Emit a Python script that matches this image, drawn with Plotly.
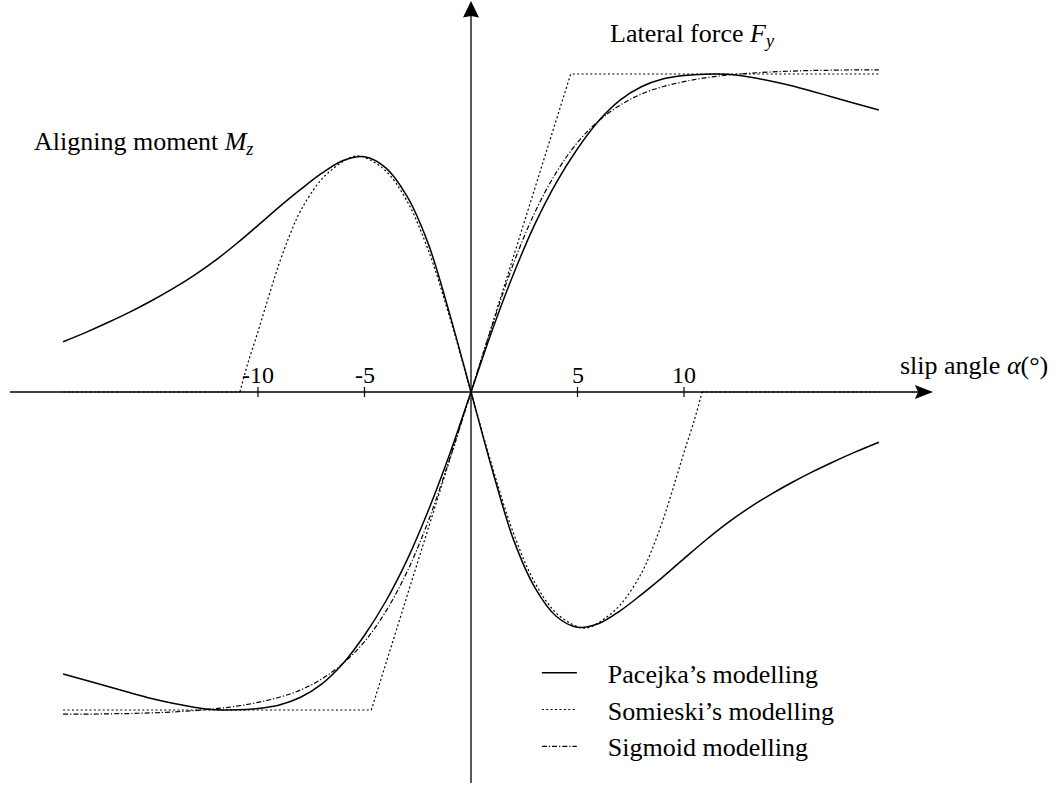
import plotly.graph_objects as go

# ---- Lateral force F_y (normalised so that the peak is about 1) ----
fy_alpha = [-19.15, -18, -17, -16, -15, -14, -13, -12, -11, -10, -9, -8, -7, -6, -5,
            -4, -3, -2, -1, 0, 1, 2, 3, 4, 5, 6, 7, 8, 9, 10, 11, 12, 13, 14, 15, 16,
            17, 18, 19.15]
fy_pacejka = [-0.887, -0.908, -0.927, -0.946, -0.964, -0.979, -0.991, -0.999, -0.9995, -0.995,
              -0.984, -0.96, -0.918, -0.853, -0.765, -0.658, -0.528, -0.372, -0.195, 0.0,
              0.195, 0.372, 0.528, 0.658, 0.765, 0.853, 0.918, 0.96, 0.984, 0.995, 0.9995,
              0.999, 0.991, 0.979, 0.964, 0.946, 0.927, 0.908, 0.887]
fy_sigmoid = [-1.013, -1.013, -1.012, -1.011, -1.009, -1.006, -1.002, -0.996, -0.988,
              -0.976, -0.96, -0.937, -0.902, -0.853, -0.785, -0.69, -0.565, -0.405, -0.21, 0.0,
              0.21, 0.405, 0.565, 0.69, 0.785, 0.853, 0.902, 0.937, 0.96, 0.976, 0.988,
              0.996, 1.002, 1.006, 1.009, 1.011, 1.012, 1.013, 1.013]
fy_somieski_alpha = [-19.15, -4.68, 4.68, 19.15]
fy_somieski = [-1.0, -1.0, 1.0, 1.0]

# ---- Aligning moment M_z ----
mz_alpha = [-19.15, -18, -17, -16, -15, -14, -13, -12, -11, -10, -9, -8, -7, -6, -5,
            -4, -3, -2, -1, 0, 1, 2, 3, 4, 5, 6, 7, 8, 9, 10, 11, 12, 13, 14, 15, 16,
            17, 18, 19.15]
mz_pacejka = [0.158, 0.19, 0.22, 0.252, 0.287, 0.325, 0.367, 0.414, 0.467, 0.524, 0.582, 0.637,
              0.688, 0.728, 0.74, 0.705, 0.615, 0.465, 0.245, 0.0,
              -0.245, -0.465, -0.615, -0.705, -0.74, -0.728, -0.688, -0.637, -0.582, -0.524,
              -0.467, -0.414, -0.367, -0.325, -0.287, -0.252, -0.22, -0.19, -0.158]
# Somieski's moment: a hump between the zero crossings, flat zero outside
mz_somieski_alpha = [-10.85, -10.5, -10, -9.5, -9, -8.5, -8, -7, -6, -5.43, -5, -4, -3,
                     -2, -1, 0, 1, 2, 3, 4, 5, 5.43, 6, 7, 8, 8.5, 9, 9.5, 10, 10.5, 10.85]
mz_somieski = [0.0, 0.085, 0.19, 0.30, 0.405, 0.495, 0.57, 0.67, 0.725, 0.742, 0.738, 0.695,
               0.60, 0.445, 0.235, 0.0, -0.235, -0.445, -0.60, -0.695, -0.738, -0.742, -0.725,
               -0.67, -0.57, -0.495, -0.405, -0.30, -0.19, -0.085, 0.0]
mz_somieski_flat_left = ([-19.15, -10.85], [0.0, 0.0])
mz_somieski_flat_right = ([10.85, 19.15], [0.0, 0.0])

# ---- axis ticks and texts ----
tick_values = [-10, -5, 5, 10]
tick_labels = ["-10", "-5", "5", "10"]
legend_names = ["Pacejka\u2019s modelling", "Somieski\u2019s modelling", "Sigmoid modelling"]
LEGEND_PAD = "\u00a0" * 4

# ---- drawing geometry (data units) ----
X_RANGE = [-22.113, 27.70]
Y_RANGE = [-1.2421, 1.2327]
X_AXIS_START, X_AXIS_END = -21.65, 21.69
Y_AXIS_BOTTOM, Y_AXIS_TOP = -1.2296, 1.2296
X_HEAD_LEN, X_HEAD_HALF, X_HEAD_NOTCH = 0.85, 0.022, 0.7
Y_HEAD_LEN, Y_HEAD_HALF, Y_HEAD_NOTCH = 0.052, 0.375, 0.047
TICK_HALF = 0.016

FONT = "Liberation Serif"
SOLID = dict(color="black", width=1.5)
DOTTED = dict(color="black", width=1.2, dash="2px,2.4px")
DASHDOT = dict(color="black", width=1.2, dash="5px,2px,1.2px,2px")

fig = go.Figure()

fig.add_trace(go.Scatter(x=fy_alpha, y=fy_pacejka, mode="lines", line=dict(SOLID, shape="spline"),
                         name=LEGEND_PAD + legend_names[0], legendgroup="a"))
fig.add_trace(go.Scatter(x=fy_somieski_alpha, y=fy_somieski, mode="lines", line=DOTTED,
                         name=LEGEND_PAD + legend_names[1], legendgroup="b"))
fig.add_trace(go.Scatter(x=fy_alpha, y=fy_sigmoid, mode="lines", line=dict(DASHDOT, shape="spline"),
                         name=LEGEND_PAD + legend_names[2], legendgroup="c"))
fig.add_trace(go.Scatter(x=mz_alpha, y=mz_pacejka, mode="lines", line=dict(SOLID, shape="spline"),
                         legendgroup="a", showlegend=False))
fig.add_trace(go.Scatter(x=mz_somieski_alpha, y=mz_somieski, mode="lines",
                         line=dict(DOTTED, shape="spline"), legendgroup="b", showlegend=False))
for fx, fy in (mz_somieski_flat_left, mz_somieski_flat_right):
    fig.add_trace(go.Scatter(x=fx, y=fy, mode="lines", line=DOTTED, legendgroup="b",
                             showlegend=False))

shapes = []
# horizontal axis with arrow head
shapes.append(dict(type="line", xref="x", yref="y", x0=X_AXIS_START, y0=0,
                   x1=X_AXIS_END - X_HEAD_NOTCH, y1=0, line=dict(color="black", width=1.3)))
shapes.append(dict(type="path", xref="x", yref="y", fillcolor="black", line=dict(width=0),
                   path=(f"M{X_AXIS_END},0 L{X_AXIS_END - X_HEAD_LEN},{X_HEAD_HALF} "
                         f"L{X_AXIS_END - X_HEAD_NOTCH},0 L{X_AXIS_END - X_HEAD_LEN},{-X_HEAD_HALF} Z")))
# vertical axis with arrow head
shapes.append(dict(type="line", xref="x", yref="y", x0=0, y0=Y_AXIS_BOTTOM, x1=0,
                   y1=Y_AXIS_TOP - Y_HEAD_NOTCH, line=dict(color="black", width=1.3)))
shapes.append(dict(type="path", xref="x", yref="y", fillcolor="black", line=dict(width=0),
                   path=(f"M0,{Y_AXIS_TOP} L{-Y_HEAD_HALF},{Y_AXIS_TOP - Y_HEAD_LEN} "
                         f"L0,{Y_AXIS_TOP - Y_HEAD_NOTCH} L{Y_HEAD_HALF},{Y_AXIS_TOP - Y_HEAD_LEN} Z")))
# ticks crossing the horizontal axis
for t in tick_values:
    shapes.append(dict(type="line", xref="x", yref="y", x0=t, x1=t, y0=-TICK_HALF, y1=TICK_HALF,
                       line=dict(color="black", width=1.2)))

annotations = []
for t, lab in zip(tick_values, tick_labels):
    annotations.append(dict(x=t, y=0.0535, xref="x", yref="y", text=lab, showarrow=False,
                            xanchor="center", yanchor="middle",
                            font=dict(size=24, family=FONT, color="black")))
annotations.append(dict(x=20.05, y=0.082, xref="x", yref="y", showarrow=False,
                        text="slip angle <i>\u03b1</i>(\u00b0)", xanchor="left", yanchor="middle",
                        font=dict(size=26, family=FONT, color="black")))
annotations.append(dict(x=6.45, y=1.1226, xref="x", yref="y", showarrow=False,
                        text="Lateral force <i>F</i><sub><i>y</i></sub>", xanchor="left",
                        yanchor="middle", font=dict(size=26, family=FONT, color="black")))
annotations.append(dict(x=-20.61, y=0.783, xref="x", yref="y", showarrow=False,
                        text="Aligning moment <i>M</i><sub><i>z</i></sub>", xanchor="left",
                        yanchor="middle", font=dict(size=26, family=FONT, color="black")))

fig.update_layout(
    width=1061, height=787,
    margin=dict(l=0, r=0, t=0, b=0),
    paper_bgcolor="white", plot_bgcolor="white",
    font=dict(family=FONT, color="black", size=26),
    xaxis=dict(range=X_RANGE, visible=False, fixedrange=True),
    yaxis=dict(range=Y_RANGE, visible=False, fixedrange=True),
    shapes=shapes,
    annotations=annotations,
    showlegend=True,
    legend=dict(x=0.506, y=0.175, xanchor="left", yanchor="top", bgcolor="rgba(0,0,0,0)",
                font=dict(size=26, family=FONT, color="black"), traceorder="grouped",
                tracegroupgap=0, itemwidth=35),
)

fig.write_html("out.html")
